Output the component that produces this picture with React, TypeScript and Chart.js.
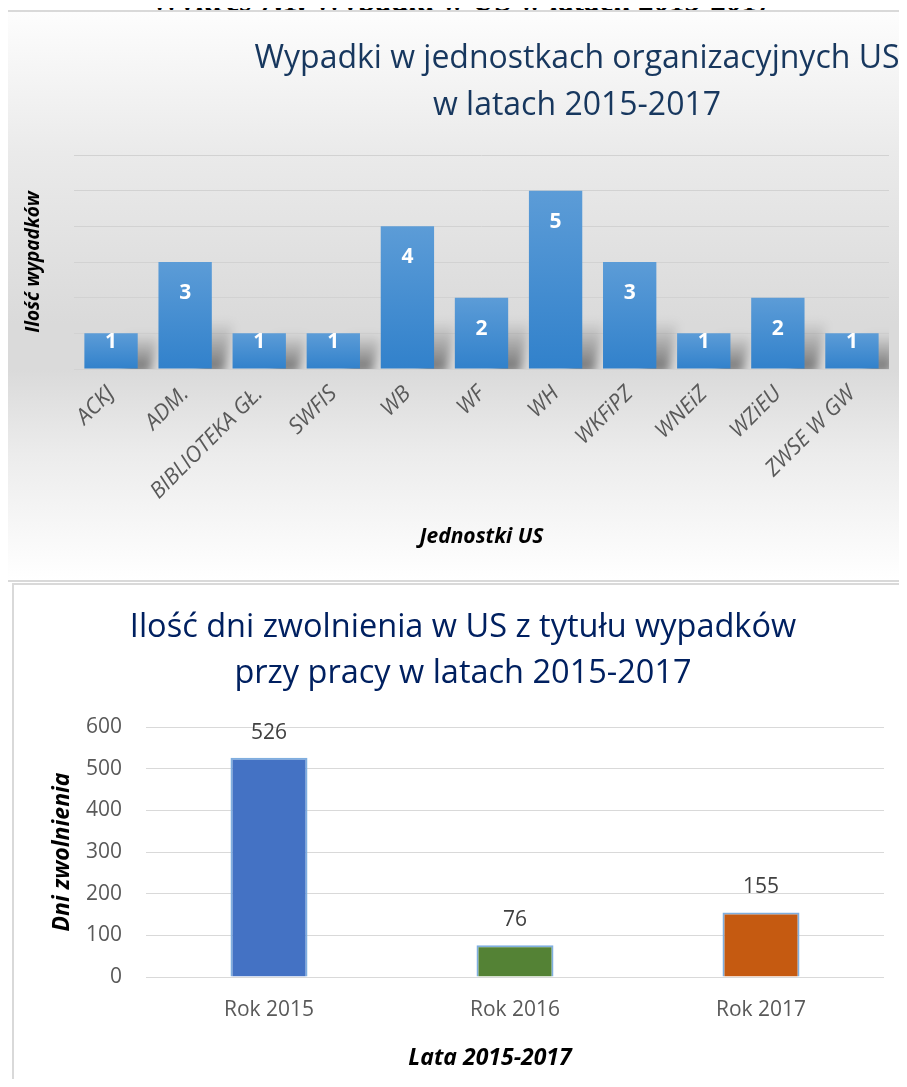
import React, { useEffect, useRef } from 'react';
import { Chart, registerables } from 'chart.js';

Chart.register(...registerables);

const FONT = "'Open Sans', 'Noto Sans', sans-serif";

// ---------- data: chart 1 ----------
const units = ['ACKJ', 'ADM.', 'BIBLIOTEKA GŁ.', 'SWFIS', 'WB', 'WF', 'WH', 'WKFiPZ', 'WNEiZ', 'WZiEU', 'ZWSE W GW'];
const accidents = [1, 3, 1, 1, 4, 2, 5, 3, 1, 2, 1];
const accidentsMax = 6;
const chart1Title = ['Wypadki w jednostkach organizacyjnych US', 'w latach 2015-2017'];
const chart1XTitle = 'Jednostki US';
const chart1YTitle = 'Ilość wypadków';

// ---------- data: chart 2 ----------
const years = ['Rok 2015', 'Rok 2016', 'Rok 2017'];
const sickDays = [526, 76, 155];
const yearColors = ['#4472C4', '#548235', '#C55A11'];
const daysMax = 600;
const daysStep = 100;
const chart2Title = ['Ilość dni zwolnienia w US z tytułu wypadków', 'przy pracy w latach 2015-2017'];
const chart2XTitle = 'Lata 2015-2017';
const chart2YTitle = 'Dni zwolnienia';

const pageHeading = 'Wykres 7.1. Wypadki w US w latach 2015-2017';

function makeTitlePlugin(lines: string[], x: number, baselines: number[], color: string, size: number) {
  return {
    id: 'multiLineTitle',
    afterDraw(chart: any) {
      const ctx = chart.ctx;
      ctx.save();
      ctx.font = `${size}px ${FONT}`;
      ctx.fillStyle = color;
      ctx.textAlign = 'center';
      ctx.textBaseline = 'alphabetic';
      lines.forEach((l, i) => ctx.fillText(l, x, baselines[i]));
      ctx.restore();
    },
  };
}

function AccidentsChart() {
  const ref = useRef<HTMLCanvasElement>(null);
  useEffect(() => {
    if (!ref.current) return;

    const barFill = (c: any) => {
      const chart = c.chart;
      const ys = chart.scales && chart.scales.y;
      if (!ys || c.type !== 'data') return '#4a8fd4';
      const top = ys.getPixelForValue(Number(c.raw));
      const base = ys.getPixelForValue(0);
      if (!isFinite(top) || !isFinite(base) || top === base) return '#4a8fd4';
      const g = chart.ctx.createLinearGradient(0, top, 0, base);
      g.addColorStop(0, '#5C9CD7');
      g.addColorStop(1, '#3181CB');
      return g;
    };

    const shadowPlugin = {
      id: 'barShadow',
      beforeDatasetsDraw(chart: any) {
        const { ctx, chartArea } = chart;
        const meta = chart.getDatasetMeta(0);
        ctx.save();
        ctx.beginPath();
        ctx.rect(chartArea.left, chartArea.top, chartArea.right - chartArea.left, chartArea.bottom - chartArea.top);
        ctx.clip();
        ctx.filter = 'blur(5px)';
        meta.data.forEach((bar: any) => {
          const { x, y, base, width } = bar.getProps(['x', 'y', 'base', 'width'], true);
          const xr = x + width / 2;
          const h = base - y;
          const sh = Math.min(h, 48);
          const g = ctx.createLinearGradient(0, base, 0, base - sh);
          g.addColorStop(0, 'rgba(0,0,0,0.45)');
          g.addColorStop(1, 'rgba(0,0,0,0)');
          ctx.fillStyle = g;
          ctx.beginPath();
          ctx.moveTo(xr - 12, base + 4);
          ctx.lineTo(xr + 12, base + 4);
          ctx.lineTo(xr + 22, base - sh);
          ctx.lineTo(xr - 12, base - sh);
          ctx.closePath();
          ctx.fill();
        });
        ctx.restore();
      },
    };

    const labelPlugin = {
      id: 'barLabels1',
      afterDatasetsDraw(chart: any) {
        const { ctx } = chart;
        const meta = chart.getDatasetMeta(0);
        ctx.save();
        ctx.font = `bold 21px ${FONT}`;
        ctx.fillStyle = '#ffffff';
        ctx.textAlign = 'center';
        ctx.textBaseline = 'middle';
        meta.data.forEach((bar: any, i: number) => {
          const { x, y, base } = bar.getProps(['x', 'y', 'base'], true);
          const h = base - y;
          const cy = y + Math.min(31, h - 26);
          ctx.fillText(String(accidents[i]), x, cy);
        });
        ctx.restore();
      },
    };

    const chart = new Chart(ref.current, {
      type: 'bar',
      data: {
        labels: units,
        datasets: [
          {
            data: accidents,
            backgroundColor: barFill as any,
            borderWidth: 0,
            categoryPercentage: 1,
            barPercentage: 0.72,
          },
        ],
      },
      options: {
        responsive: false,
        animation: false,
        layout: { padding: { left: 0, top: 155, right: 18, bottom: 40 } },
        plugins: { legend: { display: false }, tooltip: { enabled: false }, title: { display: false } },
        scales: {
          x: {
            grid: { display: false },
            border: { display: false },
            ticks: {
              color: '#595959',
              font: { family: FONT, size: 22, style: 'italic' },
              minRotation: 45,
              maxRotation: 45,
              autoSkip: false,
              padding: 4,
            },
            title: {
              display: true,
              text: chart1XTitle,
              color: '#000000',
              font: { family: FONT, size: 21, weight: 'bold', style: 'italic' },
              padding: { top: 0, bottom: 0 },
            },
            afterFit: (s: any) => {
              s.height = 181;
            },
          },
          y: {
            min: 0,
            max: accidentsMax,
            ticks: { display: false, stepSize: 1 },
            grid: { color: '#d2d2d2', lineWidth: 1, drawTicks: false },
            border: { display: false },
            title: {
              display: true,
              text: chart1YTitle,
              color: '#000000',
              font: { family: FONT, size: 19, weight: 'bold', style: 'italic' },
              padding: { top: 22, bottom: 0 },
            },
            afterFit: (s: any) => {
              s.width = 74;
            },
          },
        },
      },
      plugins: [shadowPlugin, labelPlugin, makeTitlePlugin(chart1Title, 577, [68, 115], '#17375E', 32)],
    });
    return () => chart.destroy();
  }, []);
  return <canvas ref={ref} width={907} height={590} style={{ display: 'block' }} />;
}

function SickDaysChart() {
  const ref = useRef<HTMLCanvasElement>(null);
  useEffect(() => {
    if (!ref.current) return;

    const labelPlugin = {
      id: 'barLabels2',
      afterDatasetsDraw(chart: any) {
        const { ctx } = chart;
        const meta = chart.getDatasetMeta(0);
        ctx.save();
        ctx.font = `21px ${FONT}`;
        ctx.fillStyle = '#404040';
        ctx.textAlign = 'center';
        ctx.textBaseline = 'middle';
        meta.data.forEach((bar: any, i: number) => {
          const { x, y } = bar.getProps(['x', 'y'], true);
          ctx.fillText(String(sickDays[i]), x, y - 25);
        });
        ctx.restore();
      },
    };

    const xTitlePlugin = {
      id: 'xTitle2',
      afterDraw(chart: any) {
        const { ctx } = chart;
        ctx.save();
        ctx.font = `italic bold 23px ${FONT}`;
        ctx.fillStyle = '#000000';
        ctx.textAlign = 'center';
        ctx.textBaseline = 'middle';
        ctx.fillText(chart2XTitle, 490, 475);
        ctx.restore();
      },
    };

    const chart = new Chart(ref.current, {
      type: 'bar',
      data: {
        labels: years,
        datasets: [
          {
            data: sickDays,
            backgroundColor: yearColors,
            borderColor: '#7FAEDF',
            borderWidth: 2,
            categoryPercentage: 1,
            barPercentage: 0.313,
          },
        ],
      },
      options: {
        responsive: false,
        animation: false,
        layout: { padding: { left: 42, top: 144, right: 23, bottom: 60 } },
        plugins: { legend: { display: false }, tooltip: { enabled: false }, title: { display: false } },
        scales: {
          x: {
            grid: { display: false },
            border: { display: false },
            ticks: { color: '#595959', font: { family: FONT, size: 21 }, padding: 12 },
            afterFit: (s: any) => {
              s.height = 50;
            },
          },
          y: {
            min: 0,
            max: daysMax,
            ticks: { stepSize: daysStep, color: '#595959', font: { family: FONT, size: 21 }, padding: 24 },
            grid: { color: '#d9d9d9', lineWidth: 1, drawTicks: false },
            border: { display: false },
            title: {
              display: true,
              text: chart2YTitle,
              color: '#000000',
              font: { family: FONT, size: 23, weight: 'bold', style: 'italic' },
              padding: { top: 7, bottom: 0 },
            },
            afterFit: (s: any) => {
              s.width = 104;
            },
          },
        },
      },
      plugins: [labelPlugin, xTitlePlugin, makeTitlePlugin(chart2Title, 463, [54, 100], '#002060', 32.5)],
    });
    return () => chart.destroy();
  }, []);
  return <canvas ref={ref} width={907} height={504} style={{ display: 'block' }} />;
}

export default function App() {
  return (
    <div
      style={{
        position: 'relative',
        margin: -8,
        width: 907,
        height: 1087,
        overflow: 'hidden',
        background: '#ffffff',
      }}
    >
      <div
        style={{
          position: 'absolute',
          left: 5,
          top: 10,
          width: 940,
          height: 572,
          boxSizing: 'border-box',
          border: '2px solid #d9d9d9',
          background:
            'linear-gradient(to bottom, #fdfdfd 0%, #eaeaea 25%, #dadada 55%, #dadada 63%, #ececec 78%, #ffffff 100%)',
        }}
      />
      <div
        style={{
          position: 'absolute',
          left: 0,
          top: -15,
          width: 922,
          height: 25,
          overflow: 'hidden',
          textAlign: 'center',
          whiteSpace: 'nowrap',
          font: "bold 31px/31px 'Liberation Serif', 'Times New Roman', serif",
          color: '#000',
        }}
      >
        {pageHeading}
      </div>
      <div style={{ position: 'absolute', left: 0, top: 0, width: 907, height: 590 }}>
        <AccidentsChart />
      </div>
      <div
        style={{
          position: 'absolute',
          left: 12,
          top: 583,
          width: 940,
          height: 520,
          boxSizing: 'border-box',
          border: '2px solid #d9d9d9',
          background: '#ffffff',
        }}
      />
      <div style={{ position: 'absolute', left: 0, top: 583, width: 907, height: 504 }}>
        <SickDaysChart />
      </div>
    </div>
  );
}
